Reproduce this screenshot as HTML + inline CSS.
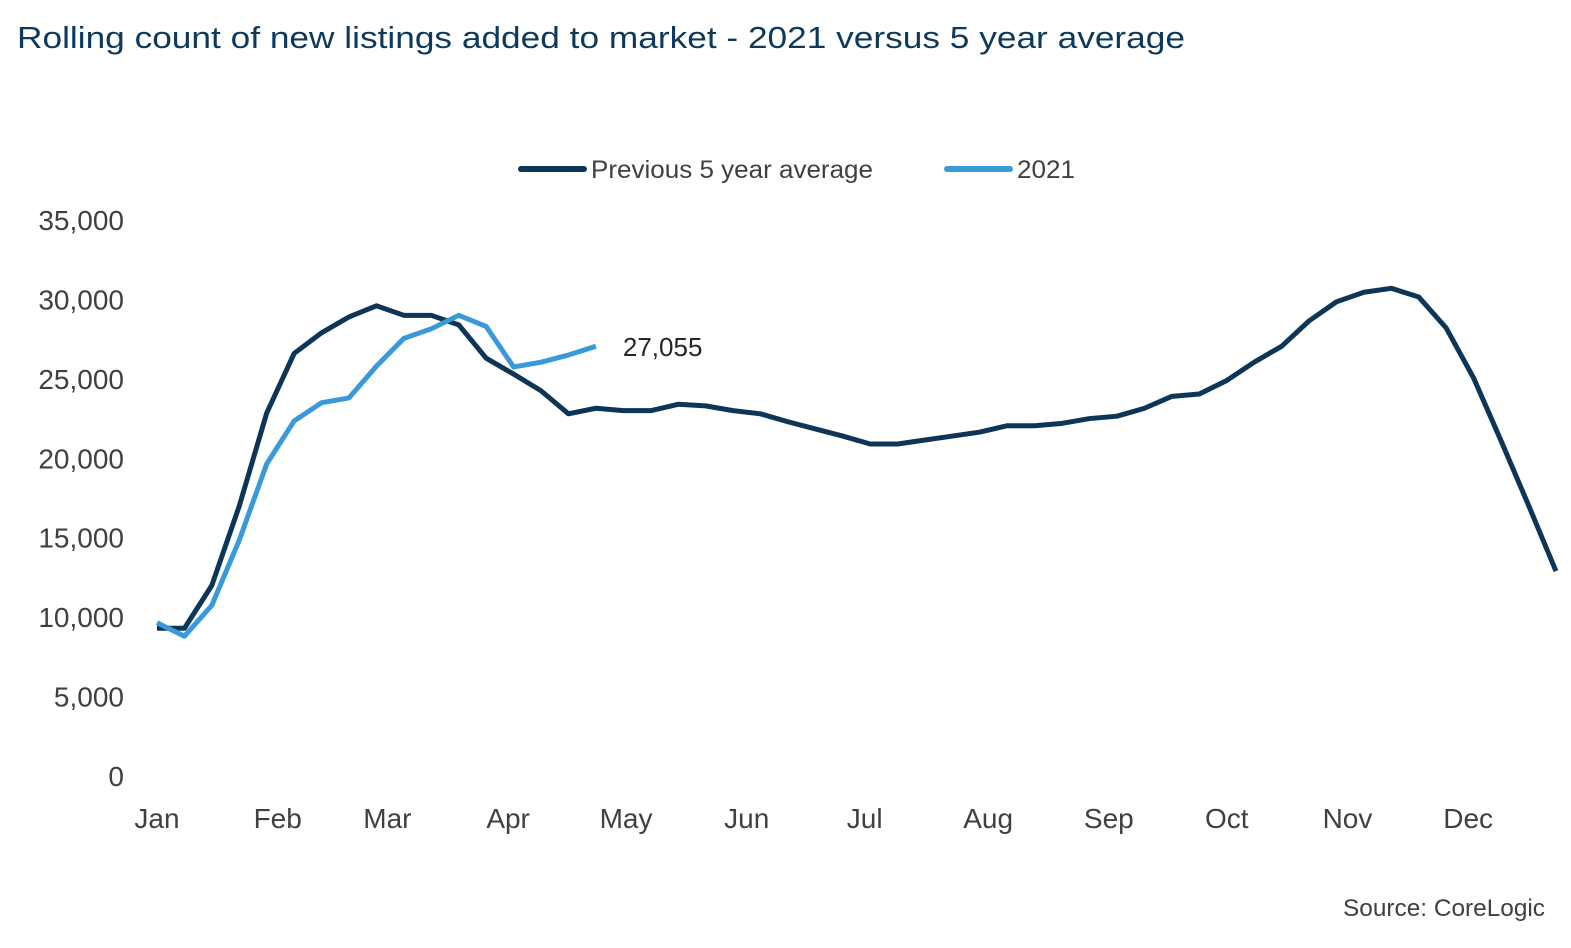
<!DOCTYPE html>
<html><head><meta charset="utf-8"><style>
html,body{margin:0;padding:0;background:#fff;}
body{width:1571px;height:943px;overflow:hidden;font-family:"Liberation Sans",sans-serif;}
</style></head><body>
<svg id="chart" width="1571" height="943" xmlns="http://www.w3.org/2000/svg">
<text x="17" y="48" font-size="31" fill="#0d3a5c" textLength="1168" lengthAdjust="spacingAndGlyphs">Rolling count of new listings added to market - 2021 versus 5 year average</text>
<g>
<line x1="521" y1="169" x2="584" y2="169" stroke="#0d3558" stroke-width="6" stroke-linecap="round"/>
<text x="591" y="178" font-size="25" fill="#404040" textLength="282" lengthAdjust="spacingAndGlyphs">Previous 5 year average</text>
<line x1="947" y1="169" x2="1010" y2="169" stroke="#3a9ad9" stroke-width="6" stroke-linecap="round"/>
<text x="1017" y="178" font-size="25" fill="#404040" textLength="58" lengthAdjust="spacingAndGlyphs">2021</text>
</g>
<g id="yaxis"></g>
<g id="xaxis"></g>
<g id="series"></g>
<text x="1545" y="916" font-size="24" fill="#404040" text-anchor="end" textLength="202" lengthAdjust="spacingAndGlyphs">Source: CoreLogic</text>
</svg>
<script>
const yTicks=[0,5000,10000,15000,20000,25000,30000,35000];
const monthLabels=["Jan","Feb","Mar","Apr","May","Jun","Jul","Aug","Sep","Oct","Nov","Dec"];
const monthWeekPos=[0,4.4,8.4,12.8,17.1,21.5,25.8,30.3,34.7,39,43.4,47.8];
const avgValues=[9300,9300,12000,17000,22850,26600,27900,28900,29600,29000,29000,28400,26300,25300,24250,22800,23150,23000,23000,23400,23300,23000,22800,22300,21850,21400,20900,20900,21150,21400,21650,22050,22050,22200,22500,22650,23150,23900,24050,24900,26050,27050,28650,29850,30450,30700,30150,28200,25050,21100,17050,12900];
const values2021=[9650,8800,10750,14850,19650,22350,23500,23800,25800,27550,28150,29000,28300,25750,26050,26500,27055];
const lastLabel="27,055";
const NS="http://www.w3.org/2000/svg";
const x=i=>157+i*27.43;
const y=v=>776-v/35000*556;
const yg=document.getElementById('yaxis'),xg=document.getElementById('xaxis'),sg=document.getElementById('series');
function mk(tag,attrs,parent){const e=document.createElementNS(NS,tag);for(const k in attrs)e.setAttribute(k,attrs[k]);parent.appendChild(e);return e;}
yTicks.forEach(t=>{const e=mk('text',{x:124,y:y(t)+10,'font-size':28,fill:'#404040','text-anchor':'end'},yg);


e.textContent=t.toLocaleString('en-US');});
monthLabels.forEach((m,i)=>{const e=mk('text',{x:x(monthWeekPos[i]),y:828,'font-size':28,fill:'#404040','text-anchor':'middle'},xg);


e.textContent=m;});
function line(vals,color,name){const p=mk('polyline',{points:vals.map((v,i)=>x(i)+','+y(v)).join(' '),fill:'none',stroke:color,'stroke-width':5,'stroke-linejoin':'round'},sg);

}
line(avgValues,'#0d3558','series-previous-5-year-average');
line(values2021,'#3a9ad9','series-2021');
const li=values2021.length-1;
const lt=mk('text',{x:x(li)+27,y:y(values2021[li])+10,'font-size':26,fill:'#262626'},sg);


lt.textContent=lastLabel;
</script>
</body></html>
